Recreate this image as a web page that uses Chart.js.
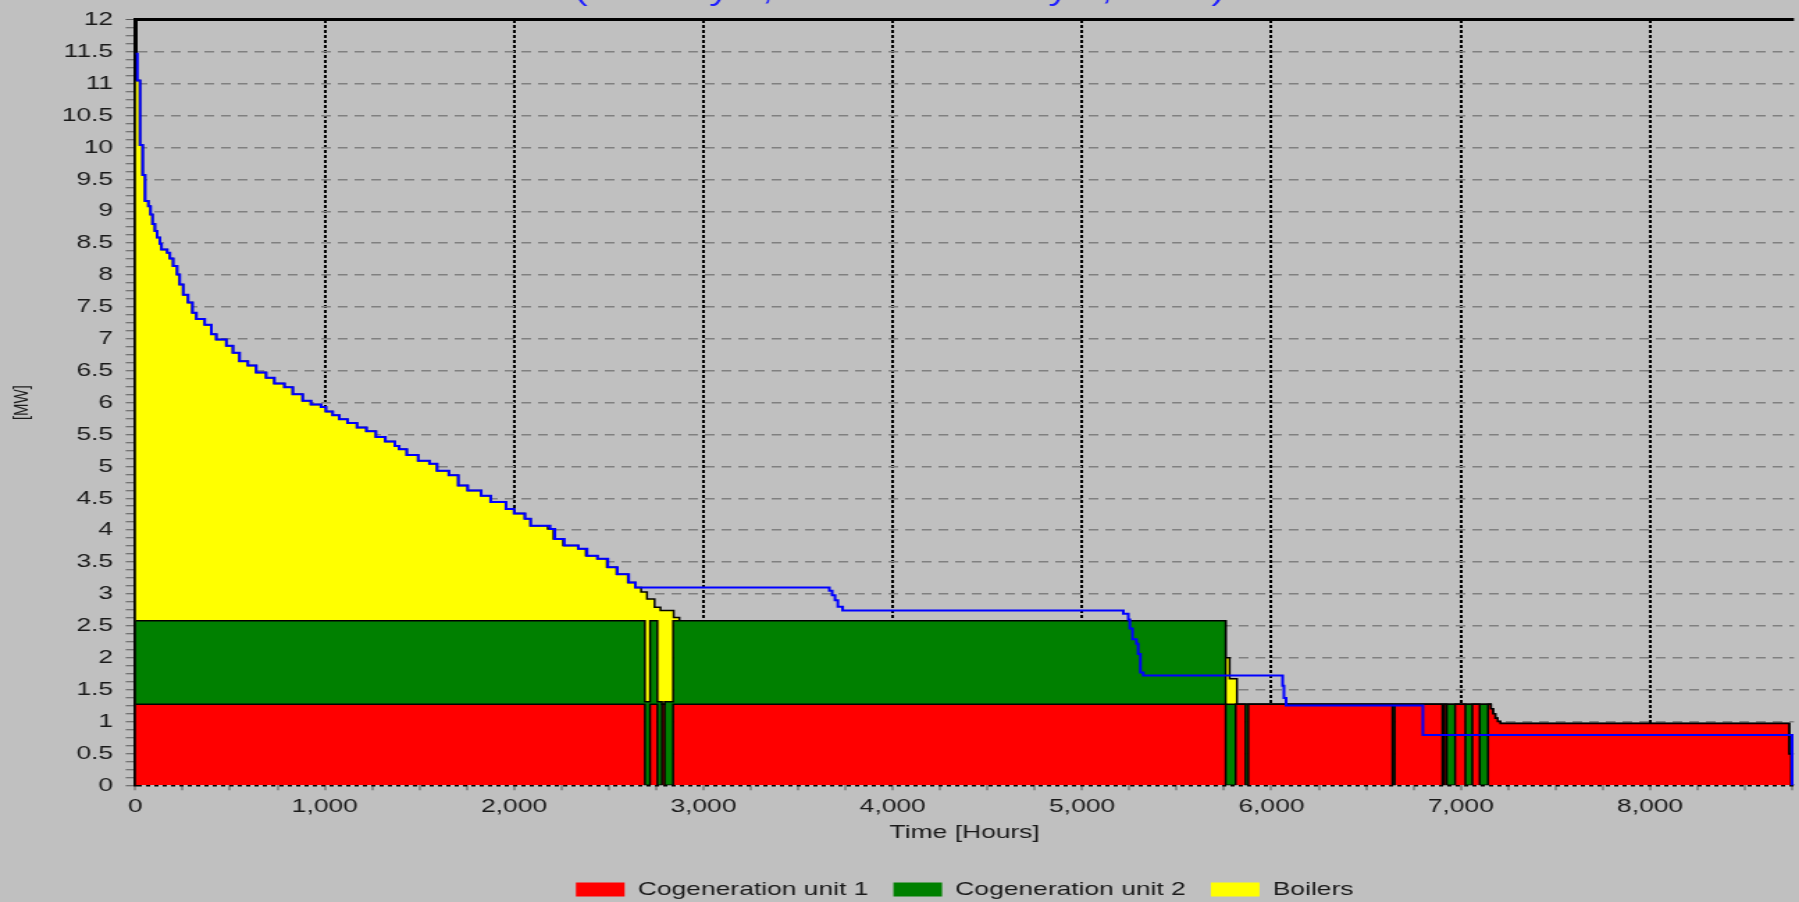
<!DOCTYPE html>
<html>
<head>
<meta charset="utf-8">
<script src="https://cdn.jsdelivr.net/npm/chart.js@4.4.1/dist/chart.umd.min.js"></script>
<style>
  html, body { margin: 0; padding: 0; background: #c0c0c0; overflow: hidden; }
  /* o grafico original vem esticado na horizontal */
  #wrap { position: absolute; left: 0; top: -22px; width: 1294px; height: 931px;
          transform: scaleX(1.3903); transform-origin: 0 0; }
</style>
</head>
<body>
<div id="wrap"><canvas id="grafico"></canvas></div>
<script>
// Curva de carga (contorno preto) - [hora, MW]
const boilerLoad = [
  [0, 11.05], [24, 10.04], [38, 9.57], [51, 9.16], [68, 9.08], [80, 8.95], [90, 8.80],
  [103, 8.69], [115, 8.59], [129, 8.49], [138, 8.40], [168, 8.35], [182, 8.26], [199, 8.14],
  [220, 8.01], [234, 7.85], [252, 7.69], [278, 7.57], [301, 7.41], [322, 7.31], [366, 7.22],
  [401, 7.07], [427, 6.99], [480, 6.89], [515, 6.78], [550, 6.65], [594, 6.58], [638, 6.47],
  [690, 6.39], [734, 6.30], [787, 6.24], [831, 6.13], [883, 6.03], [927, 5.97], [980, 5.93],
  [1006, 5.86], [1042, 5.80], [1077, 5.74], [1120, 5.68], [1170, 5.61], [1220, 5.55],
  [1270, 5.46], [1320, 5.39], [1370, 5.32], [1393, 5.27], [1433, 5.18], [1493, 5.09],
  [1553, 5.04], [1593, 4.93], [1655, 4.86], [1705, 4.70], [1755, 4.62], [1826, 4.54],
  [1876, 4.44], [1957, 4.33], [2000, 4.26], [2057, 4.18], [2087, 4.07], [2178, 4.02],
  [2208, 3.86], [2259, 3.76], [2339, 3.71], [2379, 3.60], [2440, 3.55], [2490, 3.42],
  [2541, 3.31], [2601, 3.18], [2641, 3.10], [2671, 3.03], [2702, 2.92], [2742, 2.79],
  [2773, 2.74], [2843, 2.63], [2873, 2.58], [5758, 2.00], [5779, 1.67], [5818, 1.27],
  [7159, 1.20], [7170, 1.12], [7182, 1.05], [7195, 1.00], [7209, 0.97], [8734, 0.49], [8745, 0]
];

// Cogeracao 1 e 2 - [hora, MW]
const unit1 = [
  [0, 1.27], [2691, 0], [2718, 1.27], [2757, 0], [2781, 1.27], [2795, 0], [2840, 1.27],
  [5758, 0], [5811, 1.27], [5863, 0], [5878, 1.27], [6639, 0], [6651, 1.27], [6903, 0],
  [6913, 1.27], [6926, 0], [6970, 1.27], [7024, 0], [7061, 1.27], [7100, 0], [7144, 1.27],
  [7159, 1.20], [7170, 1.12], [7182, 1.05], [7195, 1.00], [7209, 0.97], [8734, 0.49], [8745, 0]
];
const unit2 = [
  [0, 1.31], [2781, 0], [2795, 1.31], [5758, 1.27], [5811, 0], [5863, 1.27], [5878, 0],
  [6639, 1.27], [6651, 0], [6903, 1.27], [6913, 0], [6926, 1.27], [6970, 0], [7024, 1.27],
  [7061, 0], [7100, 1.27], [7144, 0]
];

// Linha azul - [hora, MW]
const demandCurve = [
  [0, 11.47], [10, 11.05], [24, 10.04], [38, 9.57], [51, 9.16], [68, 9.08], [80, 8.95],
  [90, 8.80], [103, 8.69], [115, 8.59], [129, 8.49], [138, 8.40], [168, 8.35], [182, 8.26],
  [199, 8.14], [220, 8.01], [234, 7.85], [252, 7.69], [278, 7.57], [301, 7.41], [322, 7.31],
  [366, 7.22], [401, 7.07], [427, 6.99], [480, 6.89], [515, 6.78], [550, 6.65], [594, 6.58],
  [638, 6.47], [690, 6.39], [734, 6.30], [787, 6.24], [831, 6.13], [883, 6.03], [927, 5.97],
  [980, 5.93], [1006, 5.86], [1042, 5.80], [1077, 5.74], [1120, 5.68], [1170, 5.61],
  [1220, 5.55], [1270, 5.46], [1320, 5.39], [1370, 5.32], [1393, 5.27], [1433, 5.18],
  [1493, 5.09], [1553, 5.04], [1593, 4.93], [1655, 4.86], [1705, 4.70], [1755, 4.62],
  [1826, 4.54], [1876, 4.44], [1957, 4.33], [2000, 4.26], [2057, 4.18], [2087, 4.07],
  [2190, 4.02], [2215, 3.86], [2265, 3.76], [2339, 3.71], [2385, 3.60], [2440, 3.55],
  [2495, 3.42], [2545, 3.31], [2605, 3.18], [2641, 3.10], [3665, 3.05], [3680, 2.98],
  [3695, 2.90], [3710, 2.80], [3735, 2.74], [5218, 2.69], [5244, 2.60], [5252, 2.46],
  [5266, 2.29], [5287, 2.22], [5296, 2.06], [5308, 1.77], [5323, 1.72], [6059, 1.56],
  [6066, 1.37], [6077, 1.25], [6800, 0.79], [8750, 0], [8760, 0]
];

const seriesLabels = ['Cogeneration unit 1', 'Cogeneration unit 2', 'Boilers'];
const chartTitle = '(January 1, 2002 to January 1, 2003)';
const xMajorTicks = [0, 1000, 2000, 3000, 4000, 5000, 6000, 7000, 8000];
const xMinorStep = 250;

// valor em degrau numa hora
function degrau(serie, h) {
  let v = serie[0][1];
  for (const [x, y] of serie) {
    if (x <= h) v = y; else break;
  }
  return v;
}

// horas comuns para o empilhamento
const horas = [...new Set(boilerLoad.concat(unit1, unit2).map(p => p[0]).concat([8760]))]
  .sort((a, b) => a - b);
const u1 = horas.map(h => ({ x: h, y: degrau(unit1, h) }));
const u2 = horas.map(h => ({ x: h, y: degrau(unit2, h) }));
const caldeiras = horas.map((h, i) => ({
  x: h, y: Math.max(0, +(degrau(boilerLoad, h) - u1[i].y - u2[i].y).toFixed(3))
}));
const azul = demandCurve.map(([h, v]) => ({ x: h, y: v }));

// marcas do eixo x (principais + secundarias)
const xTicks = [];
for (let h = 0; h <= 8750; h += xMinorStep) xTicks.push(h);

Chart.defaults.font.family = "'Liberation Sans', Arial, sans-serif";
Chart.defaults.font.size = 19;
Chart.defaults.color = '#1a1a1a';

const linha = { stepped: true, pointRadius: 0, tension: 0 };

new Chart(document.getElementById('grafico'), {
  type: 'line',
  data: {
    datasets: [
      { ...linha, label: 'Demand', data: azul, stack: 'demanda', borderColor: '#0000ff', borderWidth: 2, fill: false },
      { ...linha, label: seriesLabels[0], data: u1, stack: 'prod', backgroundColor: '#ff0000', borderColor: '#000', borderWidth: 1.5, fill: 'origin' },
      { ...linha, label: seriesLabels[1], data: u2, stack: 'prod', backgroundColor: '#008000', borderColor: '#000', borderWidth: 1.5, fill: '-1' },
      { ...linha, label: seriesLabels[2], data: caldeiras, stack: 'prod', backgroundColor: '#ffff00', borderColor: '#000', borderWidth: 1.5, fill: '-1' }
    ]
  },
  options: {
    responsive: true,
    maintainAspectRatio: false,
    animation: false,
    layout: { padding: 0 },
    plugins: {
      title: {
        display: true, text: chartTitle, color: '#1e1eff',
        font: { size: 28.5, weight: 'normal' }, padding: { top: -2.5, bottom: 10.2 }
      },
      legend: {
        position: 'bottom',
        fullSize: false,
        labels: {
          boxWidth: 35, boxHeight: 14, padding: 18, color: '#1a1a1a',
          filter: item => item.datasetIndex > 0,
          generateLabels: chart => Chart.defaults.plugins.legend.labels.generateLabels(chart)
            .map(l => ({ ...l, strokeStyle: l.fillStyle, lineWidth: 0 }))
        }
      },
      tooltip: { enabled: false }
    },
    scales: {
      x: {
        type: 'linear', min: 0, max: 8760,
        afterBuildTicks: s => { s.ticks = xTicks.map(v => ({ value: v })); },
        afterFit: s => { s.height = 76.7; },
        ticks: {
          autoSkip: false, maxRotation: 0, padding: 5,
          callback: v => (xMajorTicks.includes(v) ? v.toLocaleString('en-US') : '')
        },
        grid: {
          color: c => (c.tick && c.tick.value > 0 && xMajorTicks.includes(c.tick.value) ? '#000' : 'rgba(0,0,0,0)'),
          lineWidth: 2, tickColor: '#5a5a5a', tickWidth: 1, tickLength: 5
        },
        border: { display: false, dash: [3, 2] },
        title: { display: true, text: 'Time [Hours]', color: '#1a1a1a', padding: { top: 0, bottom: 18 } }
      },
      y: {
        stacked: true, min: 0, max: 12,
        afterFit: s => { s.width = 97.4; },
        ticks: {
          stepSize: 0.125, autoSkip: false, padding: 9,
          callback: v => ((v * 2) % 1 === 0 ? String(v) : '')
        },
        grid: {
          color: c => {
            if (!c.tick) return 'rgba(0,0,0,0)';
            const v = c.tick.value;
            if (v === 12 || v === 0) return '#000';
            return (v * 2) % 1 === 0 ? '#808080' : 'rgba(0,0,0,0)';
          },
          lineWidth: c => (c.tick && c.tick.value === 12 ? 3 : 1.5),
          tickColor: '#5a5a5a', tickWidth: 1, tickLength: 7
        },
        border: {
          display: true, color: '#000', width: 3,
          dash: c => {
            if (!c.tick) return [];
            if (c.tick.value === 12) return [];
            if (c.tick.value === 0) return [3, 3];
            return [7, 5];
          }
        },
        title: { display: true, text: '[MW]', color: '#1a1a1a', font: { size: 15 }, padding: { top: 7, bottom: 0 } }
      }
    }
  }
});
</script>
</body>
</html>
